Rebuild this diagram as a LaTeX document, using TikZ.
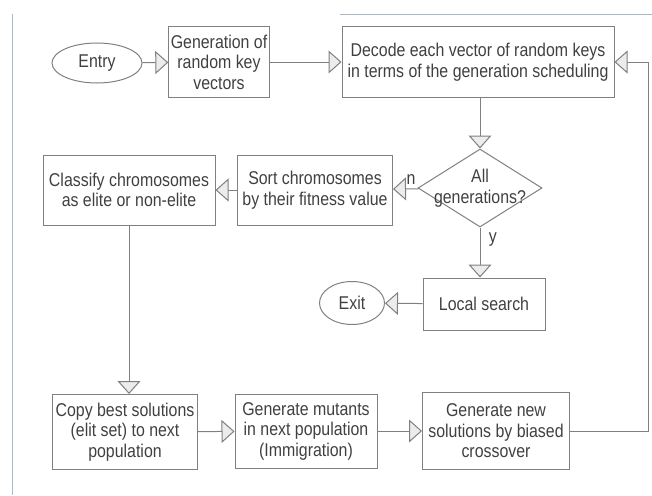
\documentclass[tikz,border=0pt]{standalone}
\usepackage{fontspec}
\setmainfont{Liberation Sans}[FakeStretch=0.86]
\usetikzlibrary{
	shapes.geometric,   %几何形状
	positioning,        %定位
	arrows.meta         %提供各种箭头
}
\definecolor{linegray}{HTML}{808080}
\definecolor{textgray}{HTML}{404040}
\definecolor{framecol}{HTML}{A9B8C4}
\tikzset{
	every picture/.style={
		>={Triangle[length=13pt,width=23pt,fill=gray!15]},
		node distance=5mm and 5mm
}}
\tikzset{
	txt/.style={text=textgray,align=center,font=\fontsize{18.5}{20.5}\selectfont},
	box/.style={txt,rectangle,draw=linegray,line width=1pt,inner sep=2pt},
	oval/.style={txt,ellipse,draw=linegray,line width=1pt,inner sep=0pt},
	dia/.style={diamond,draw=linegray,line width=1pt,inner sep=0pt,
		minimum width=124pt,minimum height=78pt},
	flow/.style={draw=linegray,line width=1pt,->}
}

\begin{document}
\begin{tikzpicture}[x=1pt,y=-1pt]
\useasboundingbox (0,0) rectangle (652,495);
% frame of the pasted figure
\draw[framecol,line width=0.6pt] (12,14) -- (12,495);
\draw[framecol,line width=0.6pt] (340,14) -- (652,14);

\node[oval,minimum width=90pt,minimum height=40pt] (entry) at (97,63) {Entry};
\node[box,minimum width=98pt,minimum height=71pt] (genkey) at (219,62) {Generation of\\random key\\vectors};
\node[box,minimum width=272pt,minimum height=71pt] (decode) at (478,62) {Decode each vector of random keys\\in terms of the generation scheduling};
\node[dia,label={[txt]center:All\\generations?}] (allgen) at (480,188) {};
\node[box,minimum width=155pt,minimum height=70pt] (sort) at (315,190) {Sort chromosomes\\by their fitness value};
\node[box,minimum width=172pt,minimum height=70pt] (classify) at (129,190) {Classify chromosomes\\as elite or non-elite};
\node[box,minimum width=122pt,minimum height=52pt] (local) at (484,304) {Local search};
\node[oval,minimum width=65pt,minimum height=43pt] (exit) at (352,303) {Exit};
\node[box,minimum width=145pt,minimum height=75pt] (copy) at (125,432) {Copy best solutions\\(elit set) to next\\population};
\node[box,minimum width=142pt,minimum height=74pt] (mutant) at (306,431) {Generate mutants\\in next population\\(Immigration)};
\node[box,minimum width=147pt,minimum height=77pt] (newsol) at (496,431) {Generate new\\solutions by biased\\crossover};
\coordinate (back) at (648,431);

% connectors
\draw[flow] (entry) -- (genkey);
\draw[flow] (genkey) -- (decode);
\draw[flow] (decode.south -| allgen.north) -- (allgen.north);
\draw[flow] (allgen) -- node[txt,pos=0.3,above=1pt]{n} (sort);
\draw[flow] (sort) -- (classify);
\draw[flow] (allgen.south) -- node[txt,pos=0.25,right=5pt]{y} (allgen.south |- local.north);
\draw[flow] (local) -- (exit);
\draw[flow] (classify) -- (classify.south |- copy.north);
\draw[flow] (copy) -- (mutant);
\draw[flow] (mutant) -- (newsol);
\draw[flow] (newsol) -- (back) |- (decode);
\end{tikzpicture}
\end{document}
